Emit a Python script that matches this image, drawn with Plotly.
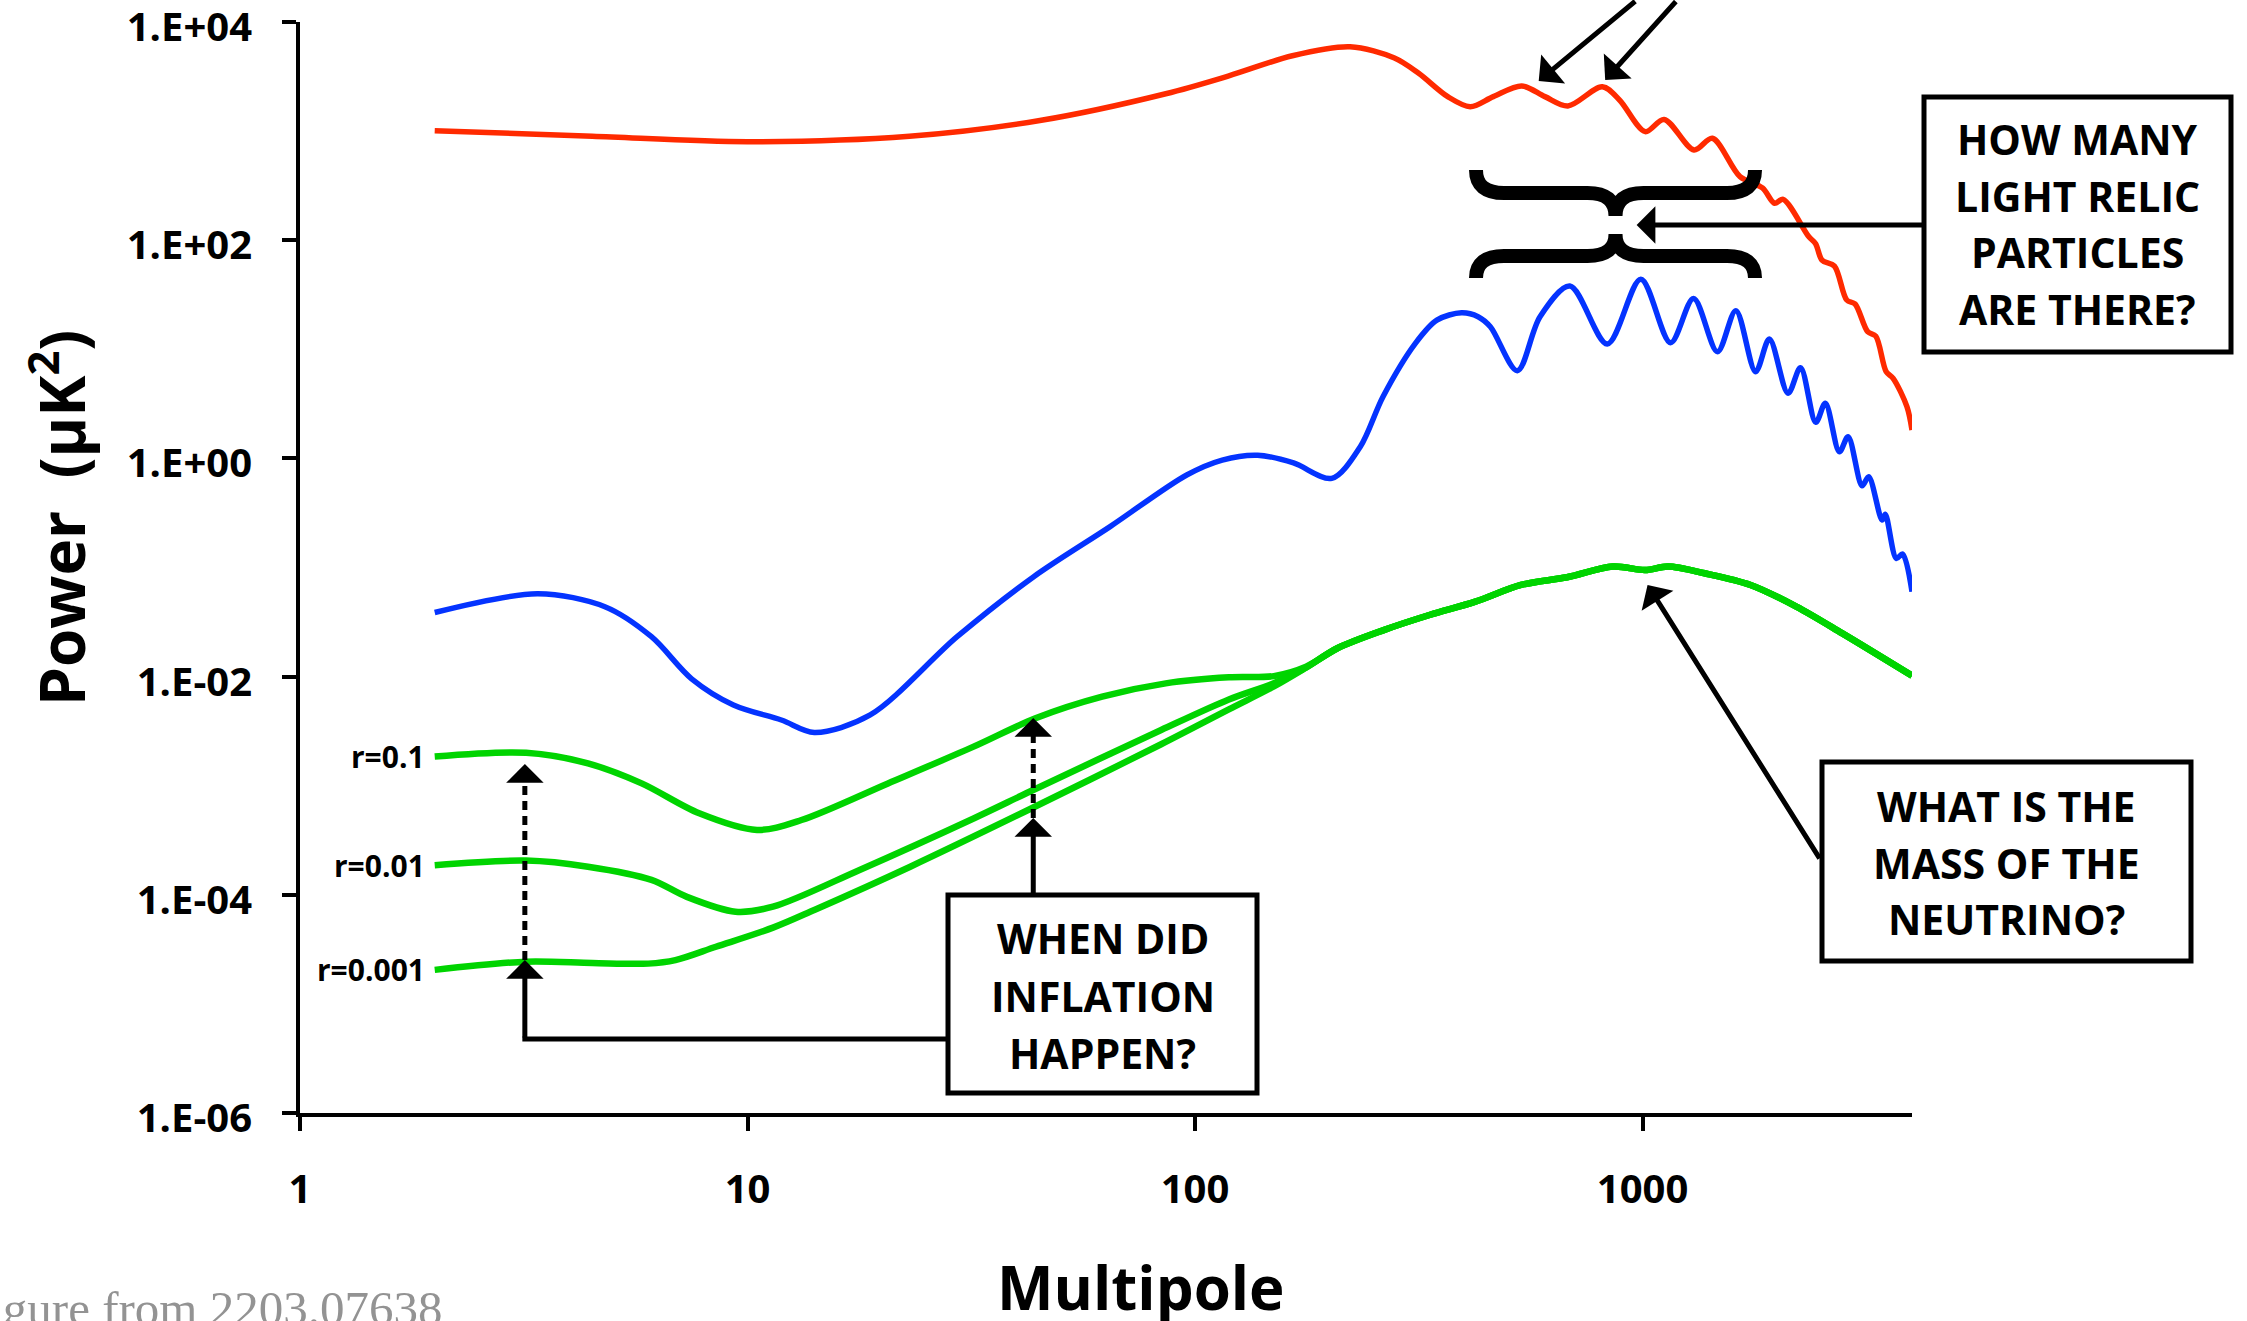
import math
import plotly.graph_objects as go

# ---------------- spectra: multipole ell vs band power (uK^2) ----------------
tt_ell = [2, 4.5, 10, 23, 45, 86, 119, 165, 222, 279, 316, 367, 412, 464, 537, 605, 681, 813, 888, 1014,
          1117, 1303, 1432, 1651, 1853, 1972, 2061, 2351, 2436, 2517, 2684, 2859, 2985, 3184, 3320, 3502,
          3630, 3897, 4000]
tt_power = [1010, 897, 800, 897, 1250, 2200, 3210, 4900, 5920, 4680, 3390, 2070, 1675, 2070, 2590, 2070,
            1700, 2550, 1930, 989, 1280, 671, 859, 382, 301, 218, 237, 108, 93, 65.8, 57.9, 28.3, 26.0,
            14.5, 13.2, 6.24, 5.42, 2.98, 1.82]

ee_ell = [2, 3.4, 4.8, 6.1, 7.5, 9.3, 11.9, 14.1, 18.8, 29.4, 43.6, 64.6, 95.8, 115, 138, 166, 202, 234,
          263, 311, 347, 394, 429, 457, 525, 590, 688, 834, 991, 1155, 1300, 1470, 1616, 1789, 1920, 2114,
          2254, 2438, 2561, 2753, 2879, 3094, 3201, 3428, 3486, 3690, 3811, 4000]
ee_power = [0.0387, 0.0574, 0.0437, 0.0232, 0.00955, 0.0055, 0.0040, 0.00308, 0.00445, 0.0232, 0.0824,
            0.237, 0.705, 0.966, 1.07, 0.908, 0.656, 1.28, 3.68, 11.4, 18.5, 21.6, 19.9, 16.1, 6.37, 19.9,
            38.0, 11.2, 43.9, 11.5, 29.2, 9.51, 22.6, 6.24, 12.4, 3.95, 6.78, 2.14, 3.20, 1.15, 1.58, 0.562,
            0.679, 0.272, 0.308, 0.121, 0.133, 0.060]

# B-mode: lensing-dominated tail shared by every tensor-to-scalar ratio
bb_tail_ell = [208, 264, 334, 423, 535, 678, 859, 1013, 1140, 1376, 1743, 2206, 2795, 4000]
bb_tail_power = [0.0182, 0.0267, 0.0367, 0.0486, 0.0692, 0.0813, 0.102, 0.0948, 0.102, 0.0885, 0.0692,
                 0.0438, 0.0249, 0.0102]

bb_r01_ell = [2, 3.2, 4.4, 5.8, 7.8, 10.5, 13.2, 20.6, 32, 44, 62, 86, 119, 150, 177]
bb_r01_power = [0.00185, 0.00200, 0.00160, 0.00105, 0.000558, 0.000393, 0.000485, 0.00105, 0.00228,
                0.00415, 0.00655, 0.00867, 0.00984, 0.0101, 0.0123]

bb_r001_ell = [2, 3.2, 4.4, 6.1, 7.3, 9.4, 11.4, 17.8, 32, 43.5, 84, 119, 150, 177]
bb_r001_power = [0.000187, 0.000206, 0.000181, 0.000137, 0.0000962, 0.0000700, 0.0000778, 0.000169,
                 0.000501, 0.000914, 0.00324, 0.00617, 0.0087, 0.0121]

bb_r0001_ell = [2, 3.2, 4.5, 6.0, 6.9, 8.5, 11.4, 14.1, 23.1, 43.5, 84, 119, 150, 177]
bb_r0001_power = [2.05e-5, 2.44e-5, 2.37e-5, 2.34e-5, 2.52e-5, 3.34e-5, 5.00e-5, 7.26e-5, 1.81e-4,
                  6.31e-4, 2.40e-3, 5.01e-3, 8.13e-3, 1.21e-2]

r_labels = ["r=0.1", "r=0.01", "r=0.001"]

x_tick_vals = [1, 10, 100, 1000]
x_tick_text = ["1", "10", "100", "1000"]
y_tick_vals = [1e-6, 1e-4, 1e-2, 1, 1e2, 1e4]
y_tick_text = ["1.E-06", "1.E-04", "1.E-02", "1.E+00", "1.E+02", "1.E+04"]

question_relic = ["HOW MANY", "LIGHT RELIC", "PARTICLES", "ARE THERE?"]
question_neutrino = ["WHAT IS THE", "MASS OF THE", "NEUTRINO?"]
question_inflation = ["WHEN DID", "INFLATION", "HAPPEN?"]

# ---------------- page geometry ----------------
FIG_W, FIG_H = 2247, 1321
M_L, M_R, M_T, M_B = 300, 335, 22, 208
PLOT_W = FIG_W - M_L - M_R
PLOT_H = FIG_H - M_T - M_B
X_LOG = [0.0, math.log10(4000)]
Y_LOG = [-6.0, 4.0]

RED = "#ff2a00"
BLUE = "#0433ff"
GREEN = "#00d400"
BOLD = "Open Sans"


def fx(px):
    """pixel column -> paper x"""
    return (px - M_L) / PLOT_W


def fy(py):
    """pixel row -> paper y"""
    return (M_T + PLOT_H - py) / PLOT_H


def ell_px(ell):
    return M_L + PLOT_W * (math.log10(ell) - X_LOG[0]) / (X_LOG[1] - X_LOG[0])


def pow_py(p):
    return M_T + PLOT_H * (Y_LOG[1] - math.log10(p)) / (Y_LOG[1] - Y_LOG[0])


fig = go.Figure()

line_style = dict(shape="spline", smoothing=0.9)
fig.add_trace(go.Scatter(x=tt_ell, y=tt_power, mode="lines",
                         line=dict(color=RED, width=5.5, **line_style)))
fig.add_trace(go.Scatter(x=ee_ell, y=ee_power, mode="lines",
                         line=dict(color=BLUE, width=5.5, **line_style)))
for low_ell, low_pow in [(bb_r01_ell, bb_r01_power), (bb_r001_ell, bb_r001_power),
                         (bb_r0001_ell, bb_r0001_power)]:
    fig.add_trace(go.Scatter(x=low_ell + bb_tail_ell, y=low_pow + bb_tail_power, mode="lines",
                             line=dict(color=GREEN, width=6.5, **line_style)))

annotations = []
shapes = []

# tensor-to-scalar ratio labels at the start of each B-mode curve
for label, pw in zip(r_labels, [bb_r01_power[0], bb_r001_power[0], bb_r0001_power[0]]):
    annotations.append(dict(x=math.log10(2), y=math.log10(pw), xref="x", yref="y", text=label,
                            showarrow=False, xanchor="right", yanchor="middle", xshift=-8,
                            font=dict(family=BOLD, size=30, color="black", weight="bold")))


def arrow(ell, p, ax, ay):
    annotations.append(dict(x=math.log10(ell), y=math.log10(p), xref="x", yref="y", text="",
                            showarrow=True, ax=ax, ay=ay, arrowhead=1, arrowsize=1.25,
                            arrowwidth=5, arrowcolor="black", standoff=0, startstandoff=0))


# arrows onto the acoustic peaks of the temperature spectrum (tails run to the top edge)
for ell, p, dx in [(586, 2880, 98), (825, 2940, 72)]:
    arrow(ell, p, dx, -pow_py(p))

# question boxes
def question_box(x0, y0, x1, y1, lines, line_rows):
    shapes.append(dict(type="rect", xref="paper", yref="paper", x0=fx(x0), x1=fx(x1),
                       y0=fy(y1), y1=fy(y0), line=dict(color="black", width=5),
                       fillcolor="white", layer="above"))
    cx = (x0 + x1) / 2
    for txt, row in zip(lines, line_rows):
        annotations.append(dict(x=fx(cx), y=fy(row), xref="paper", yref="paper", text=txt,
                                showarrow=False, xanchor="center", yanchor="middle",
                                font=dict(family=BOLD, size=41, color="black", weight="bold")))


question_box(1924, 97, 2231, 352, question_relic, [139, 196, 252, 309])
question_box(1822, 762, 2191, 961, question_neutrino, [806, 863, 919])
question_box(948, 895, 1257, 1093, question_inflation, [938, 996, 1053])

# light-relic arrow into the pair of braces
arrow(970, 138, 287, 0)


def brace_path(xl, xr, y_end, y_bar, y_tip, r=28):
    xc = (xl + xr) / 2
    P = lambda x, y: f"{fx(x):.5f},{fy(y):.5f}"
    return (f"M{P(xl, y_end)} Q{P(xl, y_bar)} {P(xl + r, y_bar)} L{P(xc - r, y_bar)} "
            f"Q{P(xc, y_bar)} {P(xc, y_tip)} M{P(xc, y_tip)} Q{P(xc, y_bar)} {P(xc + r, y_bar)} "
            f"L{P(xr - r, y_bar)} Q{P(xr, y_bar)} {P(xr, y_end)}")


for ends, bar, tip in [(170, 193, 216), (278, 256, 234)]:
    shapes.append(dict(type="path", xref="paper", yref="paper",
                       path=brace_path(1476, 1755, ends, bar, tip),
                       line=dict(color="black", width=14), fillcolor="rgba(0,0,0,0)"))

# neutrino-mass arrow onto the lensing B-mode peak
arrow(1026, 0.0692, 173, 275)

# inflation arrows: solid from the box, dashed jump between r values
HEAD = 18
for ell, p_low, p_high in [(3.18, 2.52e-5, 1.58e-3), (43.5, 5.06e-4, 4.18e-3)]:
    xp = ell_px(ell)
    shapes.append(dict(type="line", xref="paper", yref="paper", x0=fx(xp), x1=fx(xp),
                       y0=fy(pow_py(p_low)), y1=fy(pow_py(p_high) + HEAD),
                       line=dict(color="black", width=5, dash="9px,6px")))
    arrow(ell, p_high, 0, HEAD + 1)

# solid leg from the box top (right) and elbow from the box side (left)
arrow(43.5, 5.06e-4, 0, 896 - pow_py(5.06e-4))
xl_arrow = ell_px(3.18)
shapes.append(dict(type="line", xref="paper", yref="paper", x0=fx(948), x1=fx(xl_arrow - 2.5),
                   y0=fy(1039), y1=fy(1039), line=dict(color="black", width=5)))
arrow(3.18, 2.52e-5, 0, 1039 - pow_py(2.52e-5))

# axis titles and source note
annotations.append(dict(x=fx(1141), y=fy(1287), xref="paper", yref="paper", text="Multipole",
                        showarrow=False, xanchor="center", yanchor="middle",
                        font=dict(family=BOLD, size=60, color="black", weight="bold")))
annotations.append(dict(x=fx(58), y=fy(518), xref="paper", yref="paper",
                        text="Power\u00a0\u00a0(\u03bcK<sup>2</sup>)", textangle=-90,
                        showarrow=False, xanchor="center", yanchor="middle",
                        font=dict(family=BOLD, size=62, color="black", weight="bold")))
annotations.append(dict(x=fx(444), y=fy(1309), xref="paper", yref="paper",
                        text="Figure from 2203.07638", showarrow=False,
                        xanchor="right", yanchor="middle",
                        font=dict(family="Liberation Serif", size=49, color="#939393")))

axis_common = dict(showgrid=False, zeroline=False, showline=True, linecolor="black", linewidth=4,
                   ticks="outside", ticklen=14, tickwidth=4, tickcolor="black",
                   ticklabeloverflow="allow", automargin=False,
                   tickfont=dict(family=BOLD, size=40, color="black", weight="bold"))

fig.update_layout(
    width=FIG_W, height=FIG_H, autosize=False,
    margin=dict(l=M_L, r=M_R, t=M_T, b=M_B, pad=0, autoexpand=False),
    paper_bgcolor="white", plot_bgcolor="white",
    showlegend=False,
    xaxis=dict(type="log", range=X_LOG, tickvals=x_tick_vals, ticktext=x_tick_text,
               ticklabelstandoff=24, **axis_common),
    yaxis=dict(type="log", range=Y_LOG, tickvals=y_tick_vals, ticktext=y_tick_text,
               ticklabelstandoff=22, ticklabelshift=5, **axis_common),
    annotations=annotations,
    shapes=shapes,
)

fig.write_html("out.html", post_script="document.body.style.margin='0';")
